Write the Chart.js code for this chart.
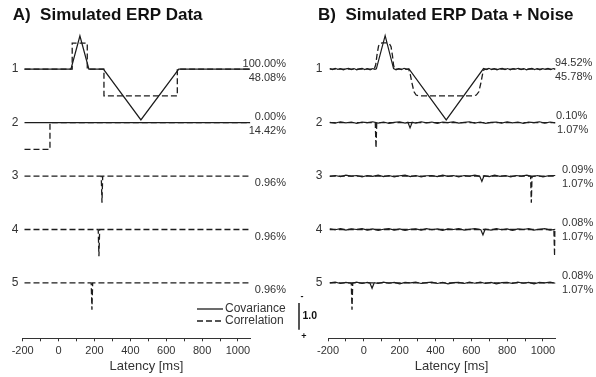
<!DOCTYPE html>
<html>
<head>
<meta charset="utf-8">
<script src="https://cdn.jsdelivr.net/npm/chart.js@4.4.0/dist/chart.umd.min.js"></script>
<style>
  html, body { margin: 0; padding: 0; background: #fff; }
  #wrap { position: relative; width: 596px; height: 377px; }
  #wrap canvas { position: absolute; left: 0; top: 0; }
</style>
</head>
<body>
<div id="wrap">
  <canvas id="chartA" width="596" height="377"></canvas>
  <canvas id="chartB" width="596" height="377"></canvas>
</div>
<script>
// x range in ms, row baselines (in units of 1.0)
const xMin = -200, xMax = 1070;
const rowOffsets = [0, -2, -4, -6, -8];
const rowNames = ['1', '2', '3', '4', '5'];

const titleA = 'A)  Simulated ERP Data';
const titleB = 'B)  Simulated ERP Data + Noise';
const xTitle = 'Latency [ms]';

// Panel A - noise free
const covA1 = [[-190, 0], [69, 0], [119, 1.24], [169, 0], [250, 0], [459, -1.9], [670, 0], [1068, 0]];
const corrA1 = [[-190, 0], [76, 0], [76, 0.97], [160, 0.97], [160, 0], [253, 0], [253, -1], [662, -1], [662, 0], [1068, 0]];
const covA2 = [[-190, 0], [1068, 0]];
const corrA2 = [[-190, -1], [-48, -1], [-48, 0], [1068, 0]];
const corrA3 = [[-190, 0], [238, 0], [242, -1], [246, 0], [1068, 0]];
const corrA4 = [[-190, 0], [221, 0], [225, -1], [229, 0], [1068, 0]];
const corrA5 = [[-190, 0], [182, 0], [186, -1], [190, 0], [1068, 0]];
const pctA = [['100.00%', '48.08%'], ['0.00%', '14.42%'], ['0.96%'], ['0.96%'], ['0.96%']];

// Panel B - with noise
const covB1 = [[-190, 0.02], [-175, -0.02], [-160, 0.03], [-145, -0.01], [-130, 0.02], [-115, -0.03], [-100, 0.01], [-85, 0.03],
  [-70, -0.02], [-55, 0.02], [-40, -0.03], [-25, 0.01], [-10, 0.03], [5, -0.02], [20, 0.02], [35, -0.03], [50, 0.02], [62, -0.01],
  [70, 0.01], [119, 1.25], [166, 0.02], [180, -0.03], [195, 0.02], [210, -0.02], [225, 0.03], [240, -0.01], [252, 0.01],
  [460, -1.9], [668, 0.02], [683, -0.02], [698, 0.03], [713, -0.02], [728, 0.02], [743, -0.03], [758, 0.01], [773, 0.03],
  [788, -0.02], [803, 0.02], [818, -0.03], [833, 0.02], [848, 0], [863, 0.03], [878, -0.02], [893, 0.02], [908, -0.03],
  [923, 0.01], [938, 0.03], [953, -0.02], [968, 0.02], [983, -0.03], [998, 0.02], [1013, -0.01], [1028, 0.03], [1043, -0.02],
  [1058, 0.02], [1070, 0]];
const corrB1 = [[-190, 0], [58, 0], [66, 0.15], [74, 0.55], [82, 0.86], [92, 0.97], [105, 0.98], [130, 0.98], [142, 0.96],
  [152, 0.84], [160, 0.5], [166, 0.15], [172, 0], [250, 0], [258, -0.15], [268, -0.5], [280, -0.85], [292, -0.97], [310, -1],
  [610, -1], [628, -0.97], [642, -0.85], [654, -0.5], [664, -0.15], [672, 0], [1068, 0]];

const covB2 = [[-190, 0.01], [-160, -0.02], [-130, 0.03], [-100, -0.01], [-70, 0.02], [-40, -0.03], [-10, 0.02], [20, 0],
  [50, 0.03], [80, -0.02], [110, 0.02], [140, -0.03], [170, 0.01], [200, 0.03], [230, -0.02], [246, 0.01], [258, -0.2],
  [270, 0.01], [290, -0.02], [320, 0.03], [350, -0.01], [380, 0.02], [410, -0.03], [440, 0.02], [470, 0], [500, 0.03],
  [530, -0.02], [560, 0.01], [590, 0.03], [620, -0.02], [650, 0.02], [680, -0.03], [710, 0.01], [740, 0.02], [770, -0.02],
  [800, 0.03], [830, -0.01], [860, 0.02], [890, -0.03], [920, 0.02], [950, 0], [980, 0.03], [1010, -0.02], [1040, 0.02],
  [1070, -0.01]];
const corrB2 = [[-190, 0], [64, 0], [68, -0.95], [72, 0], [1068, 0]];

const covB3 = [[-190, -0.01], [-160, 0.02], [-130, -0.02], [-100, 0.03], [-70, 0], [-40, 0.02], [-10, -0.03], [20, 0.02],
  [50, -0.01], [80, 0.03], [110, -0.02], [140, 0.02], [170, -0.03], [200, 0.01], [230, 0.03], [260, -0.02], [290, 0.02],
  [320, -0.03], [350, 0.01], [380, 0.02], [410, -0.02], [440, 0.03], [470, -0.01], [500, 0.02], [530, -0.03], [560, 0.02],
  [590, 0], [620, 0.03], [647, -0.01], [659, -0.2], [671, 0.01], [700, -0.02], [730, 0.03], [760, -0.01], [790, 0.02],
  [820, -0.03], [850, 0.02], [880, 0], [910, 0.03], [940, -0.02], [970, 0.02], [1000, -0.03], [1030, 0.01], [1070, 0.02]];
const corrB3 = [[-190, 0], [931, 0], [935, -1], [939, 0], [1068, 0]];

const covB4 = [[-190, 0.02], [-160, -0.01], [-130, 0.03], [-100, -0.02], [-70, 0.02], [-40, 0], [-10, 0.03], [20, -0.02],
  [50, 0.02], [80, -0.03], [110, 0.01], [140, 0.03], [170, -0.02], [200, 0.02], [230, -0.03], [260, 0.01], [290, 0.02],
  [320, -0.02], [350, 0.03], [380, -0.01], [410, 0.02], [440, -0.03], [470, 0.02], [500, 0], [530, 0.03], [560, -0.02],
  [590, 0.01], [620, 0.03], [653, -0.01], [665, -0.2], [677, 0.01], [710, -0.02], [740, 0.03], [770, -0.01], [800, 0.02],
  [830, -0.03], [860, 0.02], [890, 0], [920, 0.03], [950, -0.02], [980, 0.01], [1010, 0.03], [1040, -0.02], [1070, 0.01]];
const corrB4 = [[-190, 0], [1061, 0], [1065, -1], [1069, 0]];

const covB5 = [[-190, 0], [-160, 0.03], [-130, -0.02], [-100, 0.02], [-70, -0.01], [-40, 0.03], [-10, -0.02], [20, 0.02],
  [34, 0], [46, -0.2], [58, 0.01], [80, -0.02], [110, 0.03], [140, -0.01], [170, 0.02], [200, -0.03], [230, 0.02], [260, 0],
  [290, 0.03], [320, -0.02], [350, 0.01], [380, 0.03], [410, -0.02], [440, 0.02], [470, -0.03], [500, 0.01], [530, 0.02],
  [560, -0.02], [590, 0.03], [620, -0.01], [650, 0.03], [680, -0.02], [710, 0.02], [740, -0.03], [770, 0.01], [800, 0.02],
  [830, -0.02], [860, 0.03], [890, -0.01], [920, 0.02], [950, -0.03], [980, 0.02], [1010, 0], [1040, 0.03], [1070, -0.01]];
const corrB5 = [[-190, 0], [-70, 0], [-66, -1], [-62, 0], [1068, 0]];
const pctB = [['94.52%', '45.78%'], ['0.10%', '1.07%'], ['0.09%', '1.07%'], ['0.08%', '1.07%'], ['0.08%', '1.07%']];

const legendItems = ['Covariance', 'Correlation'];
const scaleBarLabel = '1.0';

const FONT = "'Liberation Sans', Arial, sans-serif";
const INK = '#1c1c1c';
const TXT = '#333';
const font = (size, bold) => (bold ? 'bold ' : '') + size + 'px ' + FONT;

function shift(points, row) {
  return points.map(p => ({ x: p[0], y: p[1] + rowOffsets[row] }));
}

function solid(points, row, w) {
  return { data: shift(points, row), borderColor: INK, borderWidth: w || 1.3, pointRadius: 0, tension: 0, fill: false };
}

function dashed(points, row) {
  return { data: shift(points, row), borderColor: INK, borderWidth: 1.3, borderDash: [6, 3], pointRadius: 0, tension: 0, fill: false };
}

// common text for both panels: title, row numbers, axis title
function drawPanelText(chart, title, rowX) {
  const ctx = chart.ctx, ys = chart.scales.y, xs = chart.scales.x;
  ctx.fillStyle = '#111';
  ctx.font = font(17, true);
  ctx.textAlign = 'left';
  ctx.textBaseline = 'middle';
  ctx.fillText(title, chart.chartArea.left - 10, 15.5);

  ctx.fillStyle = TXT;
  ctx.font = font(12);
  ctx.textAlign = 'center';
  rowNames.forEach((n, i) => ctx.fillText(n, rowX, ys.getPixelForValue(rowOffsets[i])));

  ctx.font = font(13);
  ctx.fillText(xTitle, xs.getPixelForValue(490), 366.5);
}

const textA = {
  id: 'textA',
  afterDraw(chart) {
    const ctx = chart.ctx, ys = chart.scales.y;
    ctx.save();
    drawPanelText(chart, titleA, 15);

    ctx.font = font(11);
    ctx.fillStyle = TXT;
    ctx.textAlign = 'right';
    pctA.forEach((lab, i) => {
      const y0 = ys.getPixelForValue(rowOffsets[i]);
      if (lab.length === 2) {
        ctx.fillText(lab[0], 286, y0 - 5.5);
        ctx.fillText(lab[1], 286, y0 + 8.5);
      } else {
        ctx.fillText(lab[0], 286, y0 + 7);
      }
    });

    // legend
    ctx.strokeStyle = INK;
    ctx.lineWidth = 1.3;
    [309, 321].forEach((y, i) => {
      ctx.setLineDash(i === 0 ? [] : [6, 3]);
      ctx.beginPath();
      ctx.moveTo(197, y);
      ctx.lineTo(223, y);
      ctx.stroke();
    });
    ctx.setLineDash([]);
    ctx.font = font(12);
    ctx.textAlign = 'left';
    ctx.fillText(legendItems[0], 225, 309);
    ctx.fillText(legendItems[1], 225, 321);

    // scale bar: one unit
    const top = ys.getPixelForValue(-8.75), bot = ys.getPixelForValue(-9.75);
    ctx.lineWidth = 1.5;
    ctx.beginPath();
    ctx.moveTo(299, top);
    ctx.lineTo(299, bot);
    ctx.stroke();
    ctx.fillStyle = '#111';
    ctx.font = font(10.5, true);
    ctx.fillText(scaleBarLabel, 302.5, (top + bot) / 2);
    ctx.font = font(9, true);
    ctx.textAlign = 'center';
    ctx.fillText('-', 302, top - 6);
    ctx.fillText('+', 304, bot + 7);
    ctx.restore();
  }
};

const textB = {
  id: 'textB',
  afterDraw(chart) {
    const ctx = chart.ctx, ys = chart.scales.y;
    ctx.save();
    drawPanelText(chart, titleB, 319);

    const labX = [555, 556, 562, 562, 562];
    ctx.font = font(11);
    ctx.fillStyle = TXT;
    ctx.textAlign = 'left';
    pctB.forEach((lab, i) => {
      const y0 = ys.getPixelForValue(rowOffsets[i]);
      ctx.fillText(lab[0], labX[i], y0 - 6.5);
      ctx.fillText(lab[1], labX[i] + (i === 1 ? 1 : 0), y0 + 7.5);
    });
    ctx.restore();
  }
};

function makePanel(id, datasets, padLeft, padRight, plugin) {
  return new Chart(document.getElementById(id), {
    type: 'line',
    data: { datasets: datasets },
    options: {
      responsive: false,
      animation: false,
      events: [],
      layout: { padding: { left: padLeft, right: padRight, top: 29, bottom: 0 } },
      plugins: { legend: { display: false }, tooltip: { enabled: false } },
      scales: {
        x: {
          type: 'linear',
          min: xMin,
          max: xMax,
          afterFit: (axis) => { axis.height = 38.7; },
          border: { display: true, color: '#333', width: 1 },
          grid: { drawOnChartArea: false, drawTicks: true, tickLength: 3, color: '#333' },
          ticks: {
            stepSize: 100,
            includeBounds: false,
            autoSkip: false,
            maxRotation: 0,
            padding: 3,
            color: TXT,
            font: { family: FONT, size: 11 },
            callback: (v) => (v % 200 === 0 ? String(v) : '')
          }
        },
        y: { display: false, min: -10.07, max: 1.5 }
      }
    },
    plugins: [plugin]
  });
}

// solid lines first so they sit on top of the dashed ones
makePanel('chartA', [
  solid(covA1, 0), solid(covA2, 1),
  dashed(corrA1, 0), dashed(corrA2, 1), dashed(corrA3, 2), dashed(corrA4, 3), dashed(corrA5, 4)
], 22.7, 345.5, textA);

makePanel('chartB', [
  solid(covB1, 0, 1.2), solid(covB2, 1, 1.2), solid(covB3, 2, 1.2), solid(covB4, 3, 1.2), solid(covB5, 4, 1.2),
  dashed(corrB1, 0), dashed(corrB2, 1), dashed(corrB3, 2), dashed(corrB4, 3), dashed(corrB5, 4)
], 328, 40.5, textB);
</script>
</body>
</html>
